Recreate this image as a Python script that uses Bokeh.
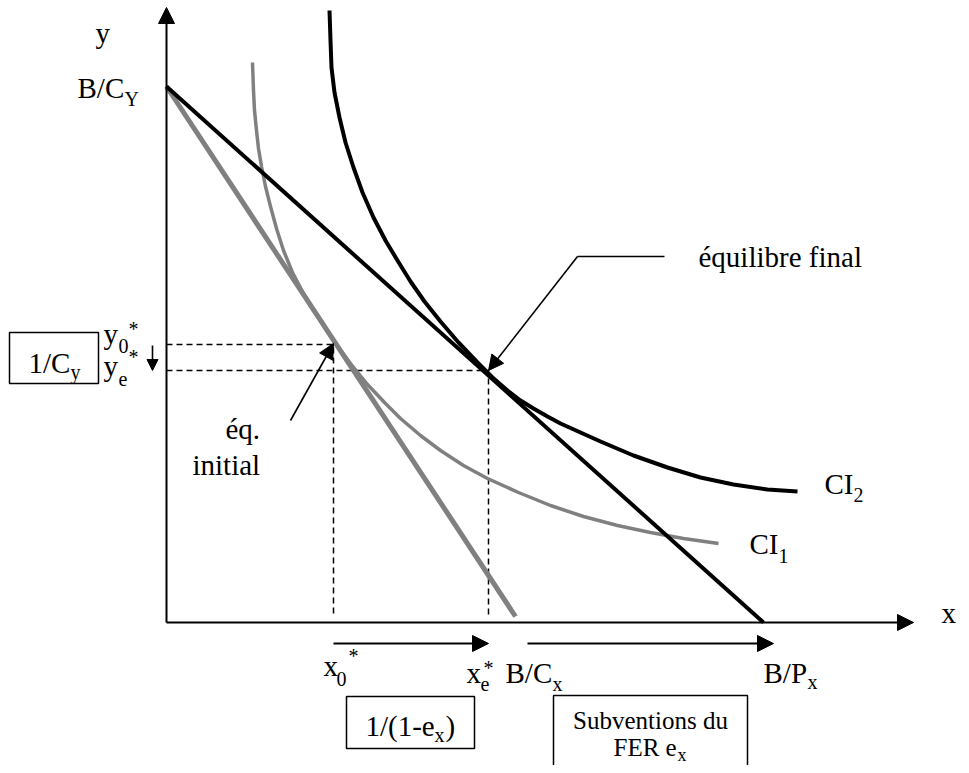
from bokeh.plotting import figure
from bokeh.models import Range1d, Arrow, NormalHead
from bokeh.core.properties import value
from bokeh.embed import file_html
from bokeh.resources import INLINE

# ---- diagram data (axis units: origin at the axes' corner) ----
budget_final_x = [0, 597]          # B/C_Y  ->  B/P_x
budget_final_y = [536, 0]
budget_init_x = [0, 349]           # B/C_Y  ->  B/C_x
budget_init_y = [536, 6]

ci1_x = [86, 87, 88, 90, 92, 95, 99, 104, 110, 117, 126, 137, 152, 167, 184, 201,
         219, 234, 254, 274, 297, 321, 352, 384, 417, 451, 484, 517, 552]
ci1_y = [560, 532, 512, 492, 474, 456, 436, 416, 394, 372, 350, 329, 305, 282, 259, 238,
         219, 204, 187, 172, 157, 144, 130, 117, 106, 97, 90, 84, 79]

ci2_x = [163, 164, 165, 168, 173, 179, 187, 196, 207, 219, 231, 244, 258, 274, 292, 311,
         326, 341, 354, 367, 381, 394, 414, 434, 467, 501, 534, 567, 601, 631]
ci2_y = [612, 582, 555, 530, 505, 480, 455, 430, 405, 382, 362, 341, 321, 301, 280, 260,
         245, 232, 222, 214, 206, 199, 190, 181, 167, 155, 145, 138, 133, 131]

x0_star, y0_star = 167, 278        # initial equilibrium
xe_star, ye_star = 322, 252        # final equilibrium
dash_bottom = 8

axis_x_end = 747
axis_y_end = 615

# annotation arrows
init_arrow = [124, 202, 167, 279]
final_leader_x = [498, 411]
final_leader_y = [366, 366]
final_arrow = [411, 366, 322, 252]
shift_arrow = [-14, 277, -14, 252]
bottom_arrows = [[167, -21, 322, -21], [361, -21, 607, -21]]

# boxes
box_left = [-157, 180, 387]
box_right = [-68, 308, 581]
box_top = [290, -74, -73]
box_bottom = [239, -126, -175]

# labels
main_text = ["y", "B/C", "1/C", "y", "y", "éq.", "initial", "équilibre final", "CI", "CI",
             "x", "B/P", "x", "x", "B/C", "1/(1-e", ")"]
main_x = [-71, -89, -138, -63, -63, 59, 26, 532, 658, 583, 775, 597, 157, 300, 339, 199, 279]
main_y = [580, 525, 250, 279, 247, 184, 148, 356, 129, 69, 0, -60, -53, -60, -60, -113, -113]

sub_text = ["Y", "y", "0", "e", "2", "1", "x", "0", "e", "x", "x"]
sub_x = [-42, -96, -48, -48, 687, 612, 641, 170, 314, 386, 268]
sub_y = [517, 244, 270, 237, 121, 60, -66, -63, -68, -68, -119]

star_x = [-38, -38, 182, 317]
star_y = [287, 259, -40, -52]

box2_text = ["Subventions du", "FER e"]
box2_x = [484, 447]
box2_y = [-106, -133]
box2_align = ["center", "left"]
box2_sub_x = [511]
box2_sub_y = [-138]

GRAY = "#808080"
FONT = value("Liberation Serif")

p = figure(width=961, height=765, x_range=Range1d(-166, 795), y_range=Range1d(-143, 622),
           output_backend="svg", toolbar_location=None,
           x_axis_location=None, y_axis_location=None, min_border=0)
p.grid.visible = False
p.outline_line_color = None
p.background_fill_color = "white"

# axes
for (xs, ys, xe, ye) in [(0, 0, axis_x_end, 0), (0, 0, 0, axis_y_end)]:
    p.add_layout(Arrow(end=NormalHead(size=16, fill_color="black", line_color="black"),
                       x_start=xs, y_start=ys, x_end=xe, y_end=ye,
                       line_width=2, line_color="black"))

# dashed guides
p.line([0, x0_star, x0_star], [y0_star, y0_star, dash_bottom], line_color="black",
       line_width=1.5, line_dash="6 4")
p.line([0, xe_star, xe_star], [ye_star, ye_star, dash_bottom], line_color="black",
       line_width=1.5, line_dash="6 4")

# budget lines and indifference curves
p.line(budget_init_x, budget_init_y, line_color=GRAY, line_width=5)
p.line(ci1_x, ci1_y, line_color=GRAY, line_width=3.5, line_join="round")
p.line(budget_final_x, budget_final_y, line_color="black", line_width=4)
p.line(ci2_x, ci2_y, line_color="black", line_width=4, line_join="round")

# annotation arrows
def arrow(a, size=15, lw=1.6):
    p.add_layout(Arrow(end=NormalHead(size=size, fill_color="black", line_color="black"),
                       x_start=a[0], y_start=a[1], x_end=a[2], y_end=a[3],
                       line_width=lw, line_color="black"))

arrow(init_arrow)
p.line(final_leader_x, final_leader_y, line_color="black", line_width=1.6)
arrow(final_arrow)
arrow(shift_arrow, size=11, lw=1.6)
for a in bottom_arrows:
    arrow(a, size=16, lw=2)

# boxes
p.quad(left=box_left, right=box_right, top=box_top, bottom=box_bottom,
       fill_color=None, line_color="black", line_width=1.5)

# texts (baseline compensation for the renderer's text placement)
def put(xs, ys, texts, size, align="left"):
    dy = 0.32 * size
    p.text(x=xs, y=[v + dy for v in ys], text=texts, text_font=FONT,
           text_font_size=f"{size}px", text_baseline="alphabetic",
           text_align=align, text_color="black")

put(main_x, main_y, main_text, 29)
put(sub_x, sub_y, sub_text, 20)
put(star_x, star_y, ["*"] * len(star_x), 20)
put(box2_x[:1], box2_y[:1], box2_text[:1], 25, "center")
put(box2_x[1:], box2_y[1:], box2_text[1:], 25, "left")
put(box2_sub_x, box2_sub_y, ["x"], 18)

open("out.html", "w").write(file_html(p, INLINE))
